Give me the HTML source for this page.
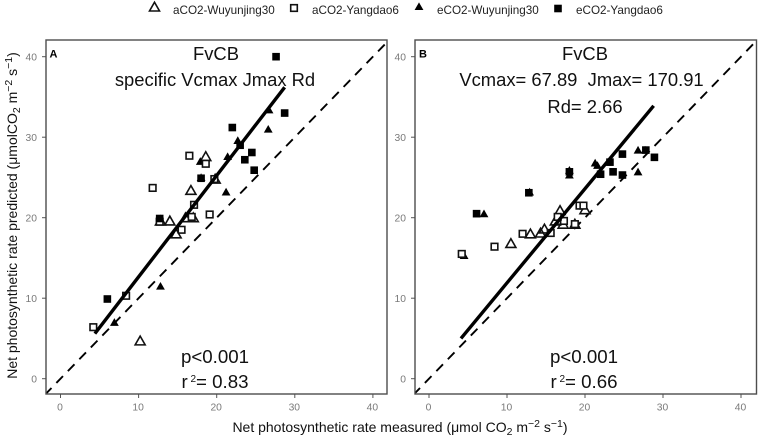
<!DOCTYPE html>
<html>
<head>
<meta charset="utf-8">
<title>FvCB predicted vs measured photosynthetic rate</title>
<style>
html,body{margin:0;padding:0;background:#fff;}
svg{display:block;font-family:"Liberation Sans",sans-serif;filter:blur(0.3px);}
</style>
</head>
<body>
<svg id="chart" width="758" height="436" viewBox="0 0 758 436" xmlns="http://www.w3.org/2000/svg">
  <g id="legend" font-size="11.7" fill="#222"></g>
  <g id="panelA"></g>
  <g id="panelB"></g>
  <text x="49.5" y="57.5" font-size="11" font-weight="bold" fill="#000">A</text>
  <text x="419" y="57.5" font-size="11" font-weight="bold" fill="#000">B</text>
  <g font-size="18.4" fill="#111" text-anchor="middle">
    <text x="216" y="60">FvCB</text>
    <text x="215" y="86">specific Vcmax Jmax Rd</text>
    <text x="215" y="363" font-size="18.7">p&lt;0.001</text>
    <text x="215" y="388" font-size="18.7">r<tspan font-size="10" dy="-6"> 2</tspan><tspan dy="6">= 0.83</tspan></text>
  </g>
  <g font-size="18.4" fill="#111" text-anchor="middle">
    <text x="585" y="60">FvCB</text>
    <text x="581.5" y="86" xml:space="preserve">Vcmax= 67.89  Jmax= 170.91</text>
    <text x="585" y="113">Rd= 2.66</text>
    <text x="584" y="363" font-size="18.7">p&lt;0.001</text>
    <text x="584" y="388" font-size="18.7">r<tspan font-size="10" dy="-6"> 2</tspan><tspan dy="6">= 0.66</tspan></text>
  </g>
  <text x="400" y="432" font-size="14" fill="#111" text-anchor="middle">Net photosynthetic rate measured (μmol CO<tspan font-size="10.5" dy="3">2</tspan><tspan dy="-3"> m</tspan><tspan font-size="10.5" dy="-5">−2</tspan><tspan dy="5"> s</tspan><tspan font-size="10.5" dy="-5">−1</tspan><tspan dy="5">)</tspan></text>
  <text transform="translate(17,215.5) rotate(-90)" font-size="14" fill="#111" text-anchor="middle">Net photosynthetic rate predicted (μmolCO<tspan font-size="10.5" dy="3">2</tspan><tspan dy="-3"> m</tspan><tspan font-size="10.5" dy="-5">−2</tspan><tspan dy="5"> s</tspan><tspan font-size="10.5" dy="-5">−1</tspan><tspan dy="5">)</tspan></text>
</svg>
<script>
var tickValues = [0, 10, 20, 30, 40];
var identityLine = [-2, 42];

var seriesNames = ["aCO2-Wuyunjing30", "aCO2-Yangdao6", "eCO2-Wuyunjing30", "eCO2-Yangdao6"];

var aOpenTriMeasured = [10.2, 14.8, 14.0, 12.8, 17.0, 16.0, 16.7, 18.6, 19.8];
var aOpenTriPredicted = [4.7, 18.0, 19.6, 19.6, 20.0, 20.0, 23.4, 27.6, 24.8];
var aOpenSqMeasured = [4.2, 8.4, 15.5, 16.8, 17.1, 19.1, 19.7, 18.6, 16.5, 11.8, 12.7];
var aOpenSqPredicted = [6.4, 10.3, 18.5, 20.1, 21.6, 20.4, 24.8, 26.7, 27.7, 23.7, 19.5];
var aFillTriMeasured = [6.9, 12.8, 21.2, 17.9, 21.4, 22.7, 26.6, 26.7, 18.0];
var aFillTriPredicted = [7.0, 11.5, 23.2, 27.0, 27.6, 29.6, 31.0, 33.4, 25.0];
var aFillSqMeasured = [6.0, 12.7, 18.0, 22.0, 23.0, 24.5, 23.6, 24.8, 28.7, 27.6];
var aFillSqPredicted = [9.9, 19.9, 24.9, 31.2, 29.0, 28.1, 27.2, 25.9, 33.0, 40.0];
var aFitMeasured = [4.4, 28.7];
var aFitPredicted = [5.6, 36.2];

var bOpenTriMeasured = [10.5, 13.0, 14.3, 14.8, 16.2, 17.2, 18.7, 16.8, 20.0];
var bOpenTriPredicted = [16.8, 18.0, 18.1, 18.6, 19.6, 19.2, 19.2, 20.9, 21.0];
var bOpenSqMeasured = [4.2, 8.4, 12.0, 15.6, 16.8, 17.3, 18.7, 19.3, 19.8, 16.5];
var bOpenSqPredicted = [15.5, 16.4, 18.0, 18.1, 19.6, 19.6, 19.2, 21.5, 21.5, 20.1];
var bFillTriMeasured = [26.8, 27.7, 26.8, 21.3, 18.0, 18.0, 12.9, 7.05, 21.6, 4.5];
var bFillTriPredicted = [28.4, 28.4, 25.7, 26.8, 25.3, 25.9, 23.2, 20.5, 26.5, 15.3];
var bFillSqMeasured = [28.9, 27.8, 24.8, 23.2, 24.8, 23.6, 22.0, 18.0, 12.8, 6.1];
var bFillSqPredicted = [27.5, 28.4, 27.9, 26.9, 25.3, 25.7, 25.4, 25.7, 23.1, 20.5];
var bFitMeasured = [4.1, 28.8];
var bFitPredicted = [5.0, 33.9];

var NS = "http://www.w3.org/2000/svg";

function make(parent, tag, attrs) {
  var el = document.createElementNS(NS, tag);
  for (var k in attrs) { el.setAttribute(k, attrs[k]); }
  parent.appendChild(el);
  return el;
}

function triPoints(cx, cy, r) {
  return (cx - r) + "," + (cy + r * 0.8) + " " + (cx + r) + "," + (cy + r * 0.8) + " " + cx + "," + (cy - r * 0.95);
}

function drawOpenTri(g, cx, cy) {
  var el = make(g, "polygon", {points: triPoints(cx, cy, 5), fill: "none", stroke: "#111", "stroke-width": 1.6});
  
  
}

function drawOpenSq(g, cx, cy) {
  var el = make(g, "rect", {x: cx - 3.3, y: cy - 3.3, width: 6.6, height: 6.6, fill: "#fff", stroke: "#111", "stroke-width": 1.6});
  
  
}

function drawFillTri(g, cx, cy) {
  var el = make(g, "polygon", {points: triPoints(cx, cy, 4.4), fill: "#000"});
  
  
}

function drawFillSq(g, cx, cy) {
  var el = make(g, "rect", {x: cx - 3.8, y: cy - 3.8, width: 7.6, height: 7.6, fill: "#000"});
  
  
}

function drawPanel(cfg) {
  var g = document.getElementById(cfg.id);
  var xScale = function (v) { return cfg.x0 + v * cfg.xk; };
  var yScale = function (v) { return cfg.y0 - v * cfg.yk; };
  var clipId = cfg.id + "-clip";
  var defs = make(g, "defs", {});
  var clip = make(defs, "clipPath", {id: clipId});
  make(clip, "rect", {x: cfg.left, y: cfg.top, width: cfg.right - cfg.left, height: cfg.bottom - cfg.top});

  tickValues.forEach(function (t) {
    var xt = make(g, "line", {x1: xScale(t), x2: xScale(t), y1: cfg.bottom, y2: cfg.bottom + 4, stroke: "#555", "stroke-width": 1});
    
    
    var yt = make(g, "line", {x1: cfg.left - 4, x2: cfg.left, y1: yScale(t), y2: yScale(t), stroke: "#555", "stroke-width": 1});
    
    
    var xl = make(g, "text", {x: xScale(t) - 0.5, y: cfg.bottom + 16.5, "font-size": 10.3, fill: "#7a7a7a", "text-anchor": "middle"});
    xl.textContent = String(t);
    
    
    var yl = make(g, "text", {x: cfg.left - 9, y: yScale(t) + 3.7, "font-size": 10.3, fill: "#7a7a7a", "text-anchor": "end"});
    yl.textContent = String(t);
    
    
  });

  var plot = make(g, "g", {"clip-path": "url(#" + clipId + ")"});
  var dash = make(plot, "line", {
    x1: xScale(identityLine[0]), y1: yScale(identityLine[0]),
    x2: xScale(identityLine[1]), y2: yScale(identityLine[1]),
    stroke: "#000", "stroke-width": 1.9, "stroke-dasharray": "9.5 7"
  });
  
  

  cfg.openTri[0].forEach(function (v, i) { drawOpenTri(plot, xScale(v), yScale(cfg.openTri[1][i])); });
  cfg.fillTri[0].forEach(function (v, i) { drawFillTri(plot, xScale(v), yScale(cfg.fillTri[1][i])); });
  cfg.openSq[0].forEach(function (v, i) { drawOpenSq(plot, xScale(v), yScale(cfg.openSq[1][i])); });

  var fit = make(plot, "line", {
    x1: xScale(cfg.fit[0][0]), y1: yScale(cfg.fit[1][0]),
    x2: xScale(cfg.fit[0][1]), y2: yScale(cfg.fit[1][1]),
    stroke: "#000", "stroke-width": 3.4
  });
  
  

  cfg.fillSq[0].forEach(function (v, i) { drawFillSq(plot, xScale(v), yScale(cfg.fillSq[1][i])); });

  var frame = make(g, "rect", {x: cfg.left, y: cfg.top, width: cfg.right - cfg.left, height: cfg.bottom - cfg.top, fill: "none", stroke: "#4d4d4d", "stroke-width": 1.4});
  
  
}

drawPanel({
  id: "panelA", left: 46, right: 387, top: 40, bottom: 394,
  x0: 60.5, xk: 7.81, y0: 378.7, yk: 8.05,
  openTri: [aOpenTriMeasured, aOpenTriPredicted],
  openSq: [aOpenSqMeasured, aOpenSqPredicted],
  fillTri: [aFillTriMeasured, aFillTriPredicted],
  fillSq: [aFillSqMeasured, aFillSqPredicted],
  fit: [aFitMeasured, aFitPredicted]
});

drawPanel({
  id: "panelB", left: 415, right: 756.5, top: 40, bottom: 394,
  x0: 429, xk: 7.8, y0: 378.7, yk: 8.05,
  openTri: [bOpenTriMeasured, bOpenTriPredicted],
  openSq: [bOpenSqMeasured, bOpenSqPredicted],
  fillTri: [bFillTriMeasured, bFillTriPredicted],
  fillSq: [bFillSqMeasured, bFillSqPredicted],
  fit: [bFitMeasured, bFitPredicted]
});

var legend = document.getElementById("legend");
var legendDraw = [drawOpenTri, drawOpenSq, drawFillTri, drawFillSq];
var legendKeyX = [154.5, 294, 419, 558];
var legendKeyY = [7, 8, 6.5, 8.5];
var legendTextX = [173, 312, 437, 576];
seriesNames.forEach(function (name, i) {
  legendDraw[i](legend, legendKeyX[i], legendKeyY[i]);
  var label = make(legend, "text", {x: legendTextX[i], y: 14});
  label.textContent = name;
  
  
});
</script>
</body>
</html>
